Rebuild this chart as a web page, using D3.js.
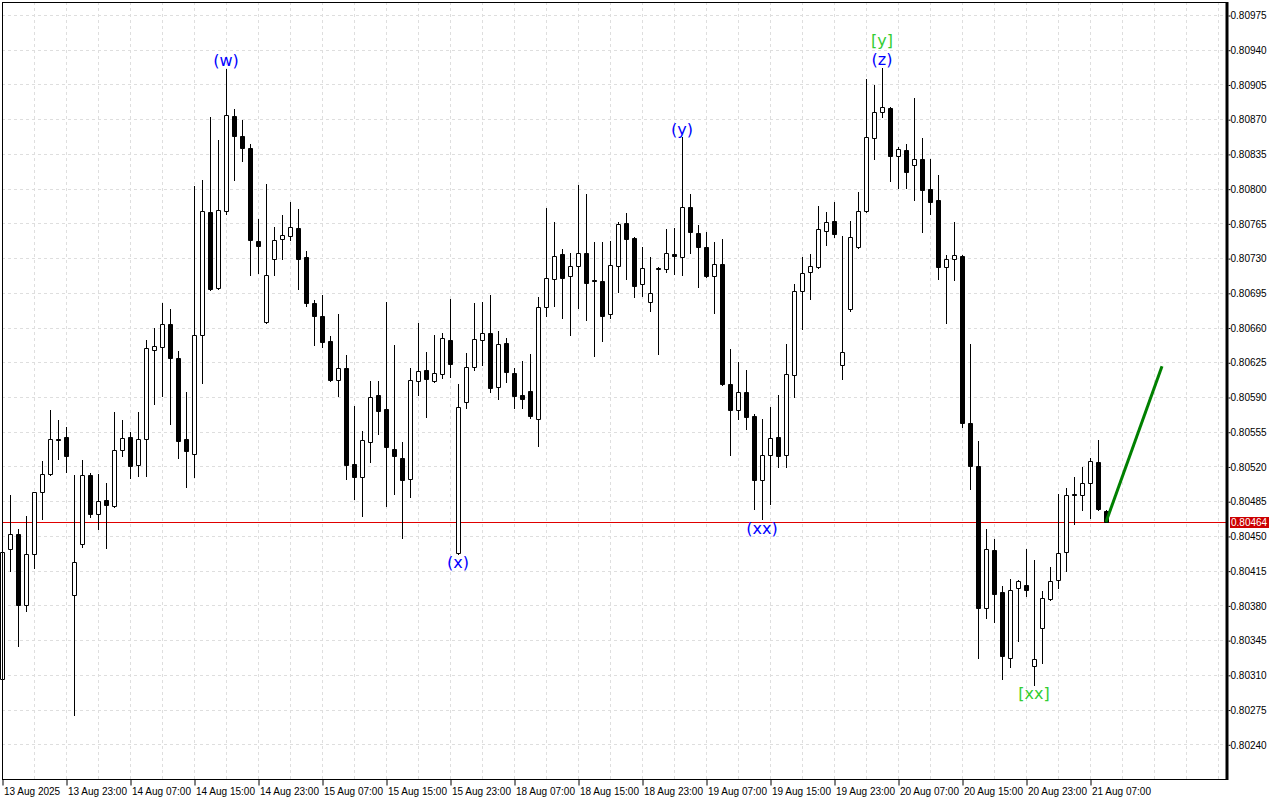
<!DOCTYPE html>
<html><head><meta charset="utf-8">
<script src="https://cdn.jsdelivr.net/npm/d3@7/dist/d3.min.js"></script>
<style>body{margin:0;background:#fff}svg{display:block}</style>
</head><body>
<svg id="c" width="1280" height="800"></svg>
<script>
// ---- DATA ----
const opens = [0.80306,0.80437,0.80452,0.80380,0.80432,0.80494,0.80512,0.80548,0.80550,0.80390,0.80442,0.80511,0.80472,0.80486,0.80480,0.80537,0.80550,0.80521,0.80548,0.80637,
0.80640,0.80664,0.80629,0.80548,0.80533,0.80653,0.80776,0.80700,0.80777,0.80873,0.80853,0.80841,0.80747,0.80666,0.80729,0.80749,0.80752,0.80760,0.80731,0.80685,
0.80672,0.80646,0.80607,0.80619,0.80522,0.80509,0.80545,0.80592,0.80578,0.80538,0.80529,0.80507,0.80606,0.80617,0.80606,0.80613,0.80647,0.80433,0.80585,0.80620,
0.80647,0.80655,0.80600,0.80644,0.80614,0.80592,0.80596,0.80568,0.80681,0.80709,0.80734,0.80712,0.80722,0.80735,0.80708,0.80707,0.80674,0.80722,0.80765,0.80750,
0.80704,0.80686,0.80720,0.80719,0.80734,0.80731,0.80782,0.80755,0.80741,0.80712,0.80724,0.80603,0.80577,0.80595,0.80571,0.80506,0.80532,0.80550,0.80532,0.80612,
0.80697,0.80716,0.80721,0.80757,0.80767,0.80622,0.80679,0.80741,0.80777,0.80851,0.80877,0.80881,0.80833,0.80839,0.80824,0.80830,0.80800,0.80789,0.80721,0.80729,
0.80732,0.80564,0.80520,0.80377,0.80436,0.80393,0.80327,0.80398,0.80401,0.80319,0.80357,0.80386,0.80406,0.80434,0.80492,0.80491,0.80503,0.80525,0.80475];
const highs = [0.80437,0.80491,0.80457,0.80470,0.80494,0.80526,0.80577,0.80567,0.80560,0.80511,0.80527,0.80513,0.80512,0.80503,0.80575,0.80567,0.80555,0.80575,0.80647,0.80660,
0.80685,0.80679,0.80636,0.80595,0.80803,0.80809,0.80872,0.80849,0.80921,0.80880,0.80869,0.80845,0.80769,0.80805,0.80761,0.80773,0.80787,0.80779,0.80737,0.80688,
0.80693,0.80651,0.80674,0.80632,0.80581,0.80556,0.80606,0.80606,0.80686,0.80642,0.80545,0.80619,0.80665,0.80635,0.80653,0.80655,0.80689,0.80603,0.80634,0.80685,
0.80686,0.80693,0.80657,0.80649,0.80619,0.80626,0.80633,0.80691,0.80780,0.80766,0.80739,0.80735,0.80804,0.80795,0.80746,0.80746,0.80747,0.80766,0.80775,0.80751,
0.80741,0.80731,0.80721,0.80759,0.80760,0.80852,0.80795,0.80763,0.80756,0.80746,0.80749,0.80638,0.80625,0.80617,0.80573,0.80568,0.80580,0.80592,0.80643,0.80704,
0.80731,0.80734,0.80783,0.80776,0.80787,0.80752,0.80767,0.80797,0.80911,0.80904,0.80922,0.80882,0.80842,0.80845,0.80891,0.80851,0.80830,0.80814,0.80733,0.80766,
0.80733,0.80643,0.80546,0.80457,0.80447,0.80400,0.80407,0.80406,0.80437,0.80426,0.80395,0.80419,0.80492,0.80498,0.80509,0.80519,0.80529,0.80547,0.80476];
const lows = [0.80304,0.80415,0.80339,0.80374,0.80418,0.80467,0.80511,0.80528,0.80514,0.80270,0.80439,0.80469,0.80457,0.80438,0.80479,0.80531,0.80508,0.80510,0.80510,0.80583,
0.80591,0.80563,0.80529,0.80499,0.80509,0.80604,0.80698,0.80699,0.80774,0.80809,0.80828,0.80713,0.80715,0.80665,0.80713,0.80729,0.80748,0.80699,0.80682,0.80642,
0.80640,0.80606,0.80591,0.80507,0.80487,0.80470,0.80525,0.80553,0.80480,0.80492,0.80448,0.80489,0.80592,0.80570,0.80605,0.80609,0.80610,0.80432,0.80579,0.80617,
0.80622,0.80595,0.80588,0.80605,0.80579,0.80579,0.80569,0.80541,0.80672,0.80682,0.80670,0.80652,0.80680,0.80668,0.80631,0.80646,0.80670,0.80696,0.80709,0.80691,
0.80692,0.80677,0.80633,0.80716,0.80714,0.80713,0.80735,0.80701,0.80711,0.80675,0.80602,0.80532,0.80568,0.80558,0.80477,0.80467,0.80482,0.80519,0.80519,0.80590,
0.80659,0.80689,0.80720,0.80743,0.80751,0.80608,0.80677,0.80740,0.80776,0.80830,0.80872,0.80808,0.80801,0.80801,0.80789,0.80756,0.80774,0.80709,0.80665,0.80708,
0.80560,0.80497,0.80327,0.80367,0.80363,0.80306,0.80318,0.80344,0.80389,0.80300,0.80322,0.80385,0.80398,0.80415,0.80462,0.80476,0.80468,0.80476,0.80464];
const closes = [0.80434,0.80452,0.80380,0.80432,0.80494,0.80512,0.80548,0.80547,0.80531,0.80424,0.80511,0.80472,0.80485,0.80481,0.80537,0.80549,0.80520,0.80548,0.80639,0.80641,
0.80664,0.80629,0.80546,0.80536,0.80653,0.80777,0.80699,0.80778,0.80874,0.80853,0.80841,0.80748,0.80742,0.80713,0.80748,0.80753,0.80761,0.80729,0.80685,0.80672,
0.80645,0.80607,0.80619,0.80521,0.80509,0.80547,0.80590,0.80576,0.80540,0.80531,0.80506,0.80607,0.80616,0.80608,0.80614,0.80649,0.80623,0.80580,0.80620,0.80648,
0.80655,0.80599,0.80643,0.80615,0.80591,0.80588,0.80571,0.80681,0.80710,0.80732,0.80710,0.80722,0.80735,0.80705,0.80707,0.80672,0.80723,0.80764,0.80749,0.80702,
0.80720,0.80695,0.80719,0.80735,0.80732,0.80781,0.80756,0.80741,0.80712,0.80724,0.80603,0.80577,0.80595,0.80570,0.80506,0.80532,0.80549,0.80531,0.80613,0.80697,
0.80715,0.80722,0.80759,0.80766,0.80754,0.80635,0.80751,0.80777,0.80852,0.80877,0.80882,0.80833,0.80840,0.80817,0.80830,0.80799,0.80787,0.80721,0.80729,0.80733,
0.80564,0.80520,0.80377,0.80437,0.80391,0.80329,0.80396,0.80405,0.80396,0.80326,0.80387,0.80405,0.80433,0.80491,0.80491,0.80503,0.80526,0.80477,0.80464];
const timeLabels = ["13 Aug 2025","13 Aug 23:00","14 Aug 07:00","14 Aug 15:00","14 Aug 23:00","15 Aug 07:00","15 Aug 15:00","15 Aug 23:00","18 Aug 07:00","18 Aug 15:00","18 Aug 23:00","19 Aug 07:00","19 Aug 15:00","19 Aug 23:00","20 Aug 07:00","20 Aug 15:00","20 Aug 23:00","21 Aug 07:00"];
const timeLabelIndex = [0,8,16,24,32,40,48,56,64,72,80,88,96,104,112,120,128,136];
const priceTicks = [0.80240,0.80275,0.80310,0.80345,0.80380,0.80415,0.80450,0.80485,0.80520,0.80555,0.80590,0.80625,0.80660,0.80695,0.80730,0.80765,0.80800,0.80835,0.80870,0.80905,0.80940,0.80975];
const currentPrice = 0.80464;
const projIndex = [138, 145];
const projPrice = [0.80464, 0.80621];
const waveText = ["(w)","(x)","(y)","(xx)","(z)","[y]","[xx]"];
const waveIndex = [28,57,85,95,110,110,129];
const wavePos = ["above","below","above","below","above","above2","below"];
const waveColor = ["#0000ff","#0000ff","#0000ff","#0000ff","#0000ff","#32cd32","#32cd32"];

// ---- CHART ----
const svg = d3.select("#c");
const L=2, R=1226, T=2, B=779;
const x = d3.scaleLinear().domain([0,153]).range([2,1226]);
const y = d3.scaleLinear().domain([0.80240,0.80975]).range([744.3,15]);
const px = v => Math.round(v)+0.5;
const font = "'Liberation Sans', Arial, sans-serif";

const g = svg.append("g");
// grid
const grid = g.append("g").attr("stroke","#dedede").attr("stroke-dasharray","3,3").attr("stroke-width",1);
priceTicks.forEach(t=>grid.append("line").attr("x1",L).attr("x2",R).attr("y1",px(y(t))).attr("y2",px(y(t))));
d3.range(4,153,4).forEach(i=>grid.append("line").attr("x1",px(x(i))).attr("x2",px(x(i))).attr("y1",T).attr("y2",B));

// price line
g.append("line").attr("x1",L).attr("x2",R).attr("y1",px(y(currentPrice))).attr("y2",px(y(currentPrice)))
 .attr("stroke","#e00000").attr("stroke-width",1);

// candles
const idx = d3.range(opens.length);
const cg = g.append("g");
idx.forEach(i=>{
  const cx = px(x(i));
  cg.append("line").attr("x1",cx).attr("x2",cx)
    .attr("y1",Math.round(y(highs[i]))).attr("y2",Math.round(y(lows[i]))+1)
    .attr("stroke","#000").attr("stroke-width",1);
  const yt = px(y(Math.max(opens[i],closes[i])));
  const yb = px(y(Math.min(opens[i],closes[i])));
  const bull = closes[i] >= opens[i];
  cg.append("path").attr("d",`M${cx-2},${yt}H${cx+2}V${yb}H${cx-2}Z`)
    .attr("fill", bull ? "#fff" : "#000").attr("stroke","#000").attr("stroke-width",1);
});

// projection
g.append("path").datum(projIndex.map((d,k)=>[d,projPrice[k]]))
 .attr("d", d3.line().x(d=>x(d[0])).y(d=>y(d[1])))
 .attr("stroke","#008000").attr("stroke-width",3).attr("fill","none");

// wave labels
waveText.forEach((t,k)=>{
  const i = waveIndex[k];
  let yy;
  if (wavePos[k]==="above") yy = y(highs[i]) - 8;
  else if (wavePos[k]==="above2") yy = y(highs[i]) - 27.5;
  else yy = y(lows[i]) + 9;
  g.append("text").attr("x",x(i)).attr("y",yy).attr("text-anchor","middle")
   .attr("dominant-baseline","central").attr("font-family","'DejaVu Sans', sans-serif")
   .attr("font-size",16).attr("fill",waveColor[k]).text(t);
});

// frame
svg.append("rect").attr("x",L+0.5).attr("y",T+0.5).attr("width",R-L).attr("height",B-T)
  .attr("fill","none").attr("stroke","#000").attr("stroke-width",1);
svg.append("line").attr("x1",R+1).attr("x2",R+1).attr("y1",T).attr("y2",B+1).attr("stroke","#000").attr("stroke-width",3);

// right axis
const ay = d3.axisRight(y).tickValues(priceTicks).tickFormat(d3.format(".5f")).tickSize(2).tickSizeOuter(0).tickPadding(0);
const yAx = svg.append("g").attr("transform",`translate(${R+2.5},0.5)`).call(ay);
yAx.select(".domain").remove();
yAx.selectAll("text").attr("font-family",font).attr("font-size",10).attr("fill","#000");
yAx.selectAll("line").attr("stroke","#000");

// current price tag
svg.append("rect").attr("x",1230).attr("y",Math.round(y(currentPrice))-5).attr("width",39).attr("height",11).attr("fill","#cc0000");
svg.append("text").attr("x",1231).attr("y",Math.round(y(currentPrice))+4).attr("font-family",font).attr("font-size",10)
  .attr("fill","#fff").text(d3.format(".5f")(currentPrice));

// bottom axis
const ax = d3.axisBottom(x).tickValues(timeLabelIndex).tickFormat((d,k)=>timeLabels[k]).tickSize(6).tickSizeOuter(0);
const xAx = svg.append("g").attr("transform",`translate(0.5,${B+0.5})`).call(ax);
xAx.select(".domain").remove();
xAx.selectAll("line").attr("stroke","#000");
xAx.selectAll("text").attr("font-family",font).attr("font-size",10).attr("fill","#000")
  .attr("text-anchor","start").attr("dx",1).attr("y",8);
</script>
</body></html>
